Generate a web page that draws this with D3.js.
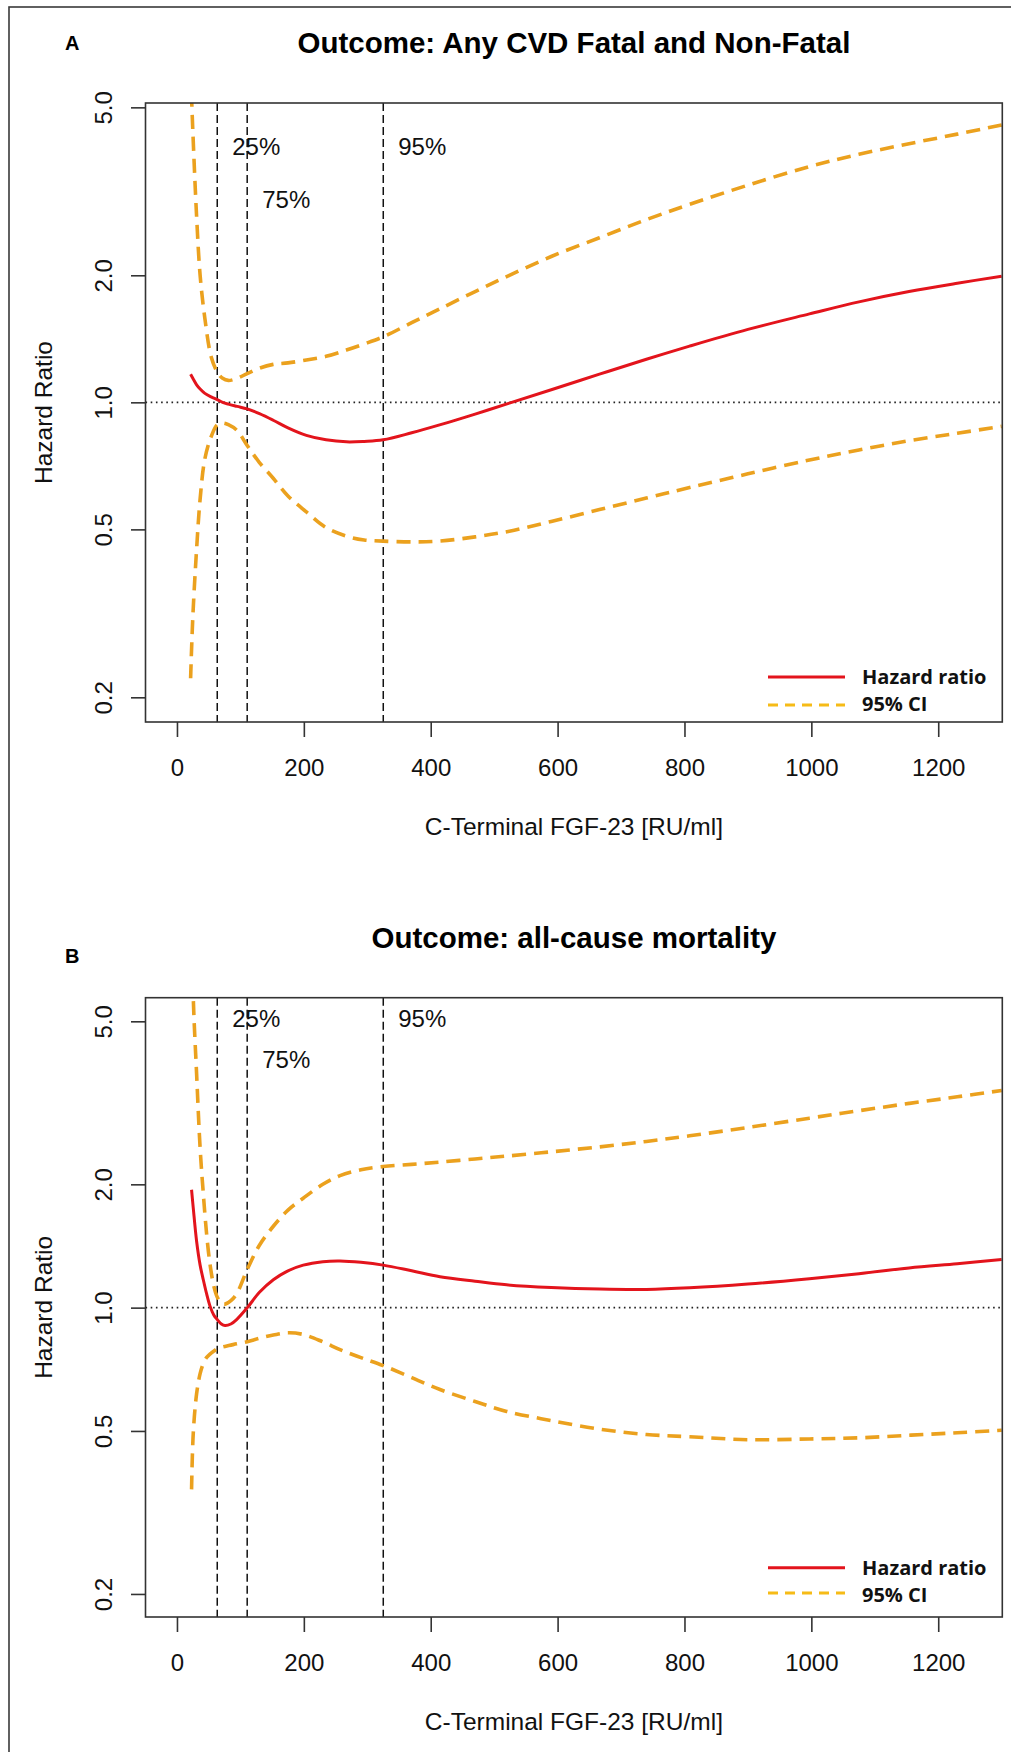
<!DOCTYPE html>
<html><head><meta charset="utf-8">
<script src="https://cdn.jsdelivr.net/npm/d3@7"></script>
<style>body{margin:0;background:#fff} svg{display:block}</style>
</head><body>
<svg id="c" width="1011" height="1752"></svg>
<script>
// ---------- data ----------
const xTicks = [0, 200, 400, 600, 800, 1000, 1200];
const yTicks = [0.2, 0.5, 1.0, 2.0, 5.0];
const yTickLabels = ["0.2", "0.5", "1.0", "2.0", "5.0"];
const quantiles = [63.5, 110.7, 325.2];
const quantileLabels = ["25%", "75%", "95%"];
const titles = ["Outcome: Any CVD Fatal and Non-Fatal", "Outcome: all-cause mortality"];
const panelLetters = ["A", "B"];
const xLabel = "C-Terminal FGF-23 [RU/ml]";
const yLabel = "Hazard Ratio";
const legendLabels = ["Hazard ratio", "95% CI"];

// Panel A: any CVD
const xA  = [21.5, 25, 31, 36.5, 44, 54, 63.5, 72, 81, 95, 110.7, 130, 151.7, 175, 204, 235, 267, 295, 325, 370, 414, 470, 524, 590, 666, 740, 808, 900, 997, 1075, 1154, 1230, 1300];
const hrA = [1.165, 1.14, 1.10, 1.075, 1.05, 1.03, 1.015, 1.0, 0.99, 0.978, 0.965, 0.94, 0.907, 0.87, 0.835, 0.815, 0.806, 0.808, 0.815, 0.847, 0.884, 0.938, 0.996, 1.071, 1.166, 1.265, 1.359, 1.489, 1.62, 1.73, 1.83, 1.915, 1.99];
const loA = [0.222, 0.31, 0.45, 0.59, 0.735, 0.83, 0.885, 0.893, 0.885, 0.857, 0.79, 0.72, 0.661, 0.60, 0.55, 0.505, 0.482, 0.472, 0.469, 0.467, 0.469, 0.48, 0.495, 0.522, 0.557, 0.593, 0.628, 0.677, 0.73, 0.771, 0.811, 0.845, 0.877];
const hiA = [6.1, 4.4, 2.75, 2.0, 1.58, 1.28, 1.18, 1.14, 1.127, 1.14, 1.17, 1.205, 1.23, 1.24, 1.26, 1.285, 1.33, 1.375, 1.43, 1.544, 1.664, 1.83, 2.0, 2.216, 2.455, 2.71, 2.945, 3.27, 3.62, 3.87, 4.10, 4.32, 4.54];

// Panel B: all-cause mortality
const xB  = [23, 25.7, 31, 36.5, 41.5, 46.8, 52, 58, 63.6, 70, 75.7, 85, 94, 110.9, 130, 151.9, 175, 199, 230, 257, 290, 325, 370, 414.6, 470, 519.7, 590, 666.8, 740, 808, 900, 997, 1075, 1154, 1230, 1300];
const hrB = [1.94, 1.75, 1.45, 1.27, 1.17, 1.08, 1.01, 0.96, 0.935, 0.912, 0.904, 0.912, 0.935, 1.0, 1.09, 1.17, 1.23, 1.27, 1.295, 1.30, 1.29, 1.27, 1.23, 1.19, 1.16, 1.137, 1.12, 1.11, 1.108, 1.118, 1.142, 1.177, 1.21, 1.25, 1.28, 1.31];
const loB = [0.36, 0.494, 0.617, 0.69, 0.73, 0.756, 0.77, 0.783, 0.794, 0.80, 0.804, 0.81, 0.816, 0.826, 0.842, 0.857, 0.868, 0.86, 0.825, 0.79, 0.755, 0.722, 0.675, 0.631, 0.59, 0.558, 0.53, 0.505, 0.49, 0.484, 0.476, 0.478, 0.481, 0.488, 0.495, 0.502];
const hiB = [10.4, 5.72, 3.71, 2.45, 1.9, 1.51, 1.28, 1.13, 1.06, 1.025, 1.02, 1.04, 1.08, 1.24, 1.42, 1.58, 1.73, 1.85, 2.0, 2.10, 2.17, 2.21, 2.237, 2.266, 2.307, 2.344, 2.401, 2.469, 2.545, 2.627, 2.754, 2.901, 3.025, 3.152, 3.271, 3.39];

const quantLabelYA = [3.85, 2.89, 3.85];
const quantLabelYB = [4.83, 3.85, 4.83];

// ---------- layout ----------
const svg = d3.select("#c");
const FONT = "'Liberation Sans', Arial, Helvetica, sans-serif";
const RED = "#e3141c", ORANGE = "#eba11e", LEG_ORANGE = "#f6bb17";
const left = 145.5, right = 1002.3;

// outer frame (right and bottom run off the image)
svg.append("rect").attr("x", 9).attr("y", 7).attr("width", 1030).attr("height", 1780)
  .attr("fill", "none").attr("stroke", "#3a3a3a").attr("stroke-width", 1.6);

const panels = [
  { x: xA, hr: hrA, lo: loA, hi: hiA, top: 103, bottom: 722, ydom: [0.1748, 5.12],
    titleY: 53, letterY: 50, qLab: quantLabelYA, legY: [677, 705], legTxt: [683.5, 710.5] },
  { x: xB, hr: hrB, lo: loB, hi: hiB, top: 997.7, bottom: 1617, ydom: [0.1757, 5.71],
    titleY: 948, letterY: 963, qLab: quantLabelYB, legY: [1567.7, 1593], legTxt: [1575, 1601.5] }
];

panels.forEach((p, i) => {
  const g = svg.append("g");
  const xs = d3.scaleLinear().domain([-49.6, 1301]).range([left, right]);
  const ys = d3.scaleLog().domain(p.ydom).range([p.bottom, p.top]);

  const clipId = "clip" + i;
  svg.append("clipPath").attr("id", clipId).append("rect")
    .attr("x", left).attr("y", p.top).attr("width", right - left).attr("height", p.bottom - p.top);

  // title & letter
  g.append("text").attr("x", (left + right) / 2).attr("y", p.titleY).attr("text-anchor", "middle")
    .attr("font-family", FONT).attr("font-weight", "bold").attr("font-size", 29.5).text(titles[i]);
  g.append("text").attr("x", 65).attr("y", p.letterY)
    .attr("font-family", FONT).attr("font-weight", "bold").attr("font-size", 20).text(panelLetters[i]);

  // reference line at HR = 1
  g.append("line").attr("x1", left).attr("x2", right).attr("y1", ys(1)).attr("y2", ys(1))
    .attr("stroke", "#222").attr("stroke-width", 1.6).attr("stroke-dasharray", "1.6,3.6");

  // quantile lines
  quantiles.forEach((q, k) => {
    g.append("line").attr("x1", xs(q)).attr("x2", xs(q)).attr("y1", p.top).attr("y2", p.bottom)
      .attr("stroke", "#111").attr("stroke-width", 1.5).attr("stroke-dasharray", "8,4");
    g.append("text").attr("x", xs(q) + 15).attr("y", ys(p.qLab[k]))
      .attr("font-family", FONT).attr("font-size", 24).attr("fill", "#111").text(quantileLabels[k]);
  });

  // curves
  const line = (vals) => d3.line().curve(d3.curveCatmullRom.alpha(0.5))
    .x((d, j) => xs(p.x[j])).y(d => ys(d))(vals);
  const cg = g.append("g").attr("clip-path", `url(#${clipId})`);
  [p.lo, p.hi].forEach(arr => {
    cg.append("path").attr("d", line(arr)).attr("fill", "none").attr("stroke", ORANGE)
      .attr("stroke-width", 3.6).attr("stroke-dasharray", "14,8");
  });
  cg.append("path").attr("d", line(p.hr)).attr("fill", "none").attr("stroke", RED)
    .attr("stroke-width", 3);

  // box
  g.append("rect").attr("x", left).attr("y", p.top).attr("width", right - left).attr("height", p.bottom - p.top)
    .attr("fill", "none").attr("stroke", "#333").attr("stroke-width", 1.6);

  // x axis
  const xa = g.append("g").attr("transform", `translate(0,${p.bottom})`)
    .call(d3.axisBottom(xs).tickValues(xTicks).tickSize(15).tickPadding(12).tickFormat(d3.format("d")));
  xa.select(".domain").remove();
  xa.selectAll(".tick line").attr("stroke", "#333").attr("stroke-width", 1.6);
  xa.selectAll(".tick text").attr("font-family", FONT).attr("font-size", 24).attr("fill", "#111")
    .attr("dy", null).attr("y", 53.7);

  // y axis
  const ya = g.append("g").attr("transform", `translate(${left},0)`)
    .call(d3.axisLeft(ys).tickValues(yTicks).tickSize(14.5).tickFormat((d, k) => yTickLabels[k]));
  ya.select(".domain").remove();
  ya.selectAll(".tick line").attr("stroke", "#333").attr("stroke-width", 1.6);
  ya.selectAll(".tick text").attr("font-family", FONT).attr("font-size", 24).attr("fill", "#111")
    .attr("x", null).attr("dy", null).attr("text-anchor", "middle")
    .attr("transform", `translate(-33.5,0) rotate(-90)`);

  // axis titles
  g.append("text").attr("x", (left + right) / 2).attr("y", p.bottom + 113).attr("text-anchor", "middle")
    .attr("font-family", FONT).attr("font-size", 24.5).attr("fill", "#111").text(xLabel);
  g.append("text").attr("transform", `translate(52,${(p.top + p.bottom) / 2}) rotate(-90)`)
    .attr("text-anchor", "middle").attr("font-family", FONT).attr("font-size", 24.5).attr("fill", "#111").text(yLabel);

  // legend
  g.append("line").attr("x1", 768).attr("x2", 845).attr("y1", p.legY[0]).attr("y2", p.legY[0])
    .attr("stroke", RED).attr("stroke-width", 3);
  g.append("line").attr("x1", 768).attr("x2", 845).attr("y1", p.legY[1]).attr("y2", p.legY[1])
    .attr("stroke", LEG_ORANGE).attr("stroke-width", 3).attr("stroke-dasharray", "10,7");
  legendLabels.forEach((t, k) => {
    g.append("text").attr("x", 862).attr("y", p.legTxt[k])
      .attr("font-family", "'Open Sans', 'Noto Sans', sans-serif").attr("font-weight", 700)
      .attr("font-size", 20).attr("fill", "#111").text(t);
  });
});
</script>
</body></html>
